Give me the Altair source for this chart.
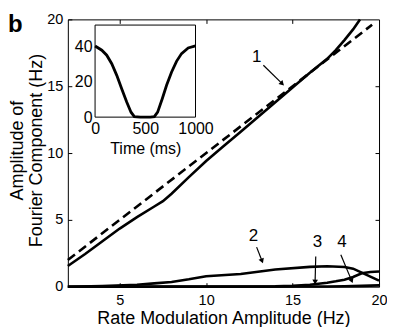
import altair as alt
import pandas as pd
import numpy as np

FONT = "Liberation Sans"

# ---------------- main panel data ----------------
# component 1 (solid)
c1_x = [2, 3, 4, 5, 6, 7, 7.5, 8, 9, 10, 11, 12, 13, 14, 15, 16, 17, 17.5, 18, 18.5, 18.9]
c1_y = [1.55, 2.45, 3.4, 4.35, 5.2, 6.0, 6.4, 6.95, 8.2, 9.4, 10.5, 11.6, 12.7, 13.8, 14.9, 16.0, 17.05, 17.7, 18.45, 19.25, 20]
# component 2
c2_x = [2, 4, 6, 7, 8, 9, 10, 12, 14, 16, 17, 18, 18.5, 19, 19.5, 20]
c2_y = [0, 0.05, 0.15, 0.25, 0.35, 0.55, 0.78, 0.95, 1.28, 1.48, 1.53, 1.47, 1.35, 1.05, 0.75, 0.45]
# component 3
c3_x = [2, 14, 15, 16, 16.5, 17, 17.5, 18, 18.5, 19, 19.5, 20]
c3_y = [0, 0.02, 0.06, 0.15, 0.22, 0.3, 0.4, 0.52, 0.72, 1.0, 1.1, 1.14]
# component 4
c4_x = [2, 17, 18, 19, 20]
c4_y = [0, 0.01, 0.03, 0.06, 0.1]
# dashed reference line
d_x = [2, 19.6]
d_y = [2, 19.6]

# annotations
ann_lab = ["1", "2", "3", "4"]
ann_tx = [12.93, 12.73, 16.44, 17.85]
ann_ty = [17.19, 3.8, 3.34, 3.34]
arr_x0 = [13.31, 12.92, 16.34, 17.79]
arr_y0 = [16.57, 2.96, 2.26, 2.39]
arr_x1 = [14.47, 13.27, 16.30, 18.46]
arr_y1 = [15.1, 1.81, 0.22, 0.32]

# ---------------- inset data ----------------
ins_t = [0, 67, 116, 166, 216, 265, 315, 358, 391, 450, 500, 550, 590, 623, 669, 712, 762, 811, 861, 927, 1000]
ins_r = [40.2, 37.8, 35, 30.2, 23.6, 16, 8.5, 2.8, 0.3, 0, 0, 0, 0.3, 2.8, 10.4, 18, 25.5, 31.5, 35.9, 39.1, 40.2]

# ---------------- geometry ----------------
W, H = 312, 268
X_DOM = [2, 20]
Y_DOM = [0, 20]
PX_X = W / (X_DOM[1] - X_DOM[0])
PX_Y = H / (Y_DOM[1] - Y_DOM[0])

rows = []
for sid, (xx, yy) in enumerate([(c1_x, c1_y), (c2_x, c2_y), (c3_x, c3_y), (c4_x, c4_y)]):
    for i, (a, b) in enumerate(zip(xx, yy)):
        rows.append({"x": a, "y": b, "s": sid + 1, "o": i})
solid_df = pd.DataFrame(rows)
dash_df = pd.DataFrame({"x": d_x, "y": d_y})

ann_df = pd.DataFrame({"lab": ann_lab, "x": ann_tx, "y": ann_ty})
x0 = np.array(arr_x0); y0 = np.array(arr_y0)
x1 = np.array(arr_x1); y1 = np.array(arr_y1)
dxp = (x1 - x0) * PX_X
dyp = (y1 - y0) * PX_Y
L = np.hypot(dxp, dyp)
back = 2.5
hx = x1 - dxp / L * back / PX_X
hy = y1 - dyp / L * back / PX_Y
ang = (np.degrees(np.arctan2(dxp, dyp)) + 360) % 360
arr_df = pd.DataFrame({"x0": x0, "y0": y0, "hx": hx, "hy": hy, "ang": ang})

xs = alt.Scale(domain=X_DOM, nice=False, zero=False)
ys = alt.Scale(domain=Y_DOM, nice=False, zero=False)

common_ax = dict(grid=False, domain=False, labelFont=FONT, labelColor="black",
                 tickColor="black", tickWidth=1, labelFlush=False, labelOverlap=False,
                 titleFont=FONT, titleColor="black", titleFontWeight="normal", format="d")

ax_x = alt.Axis(orient="bottom", values=[5, 10, 15, 20], offset=-4, tickSize=4,
                labelPadding=7, labelFontSize=14.5,
                title="Rate Modulation Amplitude (Hz)", titleFontSize=18,
                titleY=41, titleBaseline="alphabetic", **common_ax)
ax_y = alt.Axis(orient="left", values=[0, 5, 10, 15, 20], offset=-4, tickSize=4,
                labelPadding=5, labelFontSize=14.5,
                title=["Amplitude of", "Fourier Component (Hz)"], titleFontSize=18,
                titleAngle=270, titleX=-49, titleY=131, titleBaseline="alphabetic",
                titleAlign="center", titleLineHeight=18.5, **common_ax)

X = alt.X("x:Q", scale=xs, axis=ax_x)
Y = alt.Y("y:Q", scale=ys, axis=ax_y)

solid = alt.Chart(solid_df).mark_line(color="black", strokeWidth=2.6).encode(
    x=X, y=Y, detail="s:N", order="o:Q")
dashed = alt.Chart(dash_df).mark_line(color="black", strokeWidth=2.6, strokeDash=[9, 5]).encode(
    x=alt.X("x:Q", scale=xs), y=alt.Y("y:Q", scale=ys))
rules = alt.Chart(arr_df).mark_rule(color="black", strokeWidth=1.2).encode(
    x=alt.X("x0:Q", scale=xs), y=alt.Y("y0:Q", scale=ys), x2="hx:Q", y2="hy:Q")
heads = alt.Chart(arr_df).mark_point(shape="triangle", filled=True, color="black",
                                     size=32, opacity=1).encode(
    x=alt.X("hx:Q", scale=xs), y=alt.Y("hy:Q", scale=ys),
    angle=alt.Angle("ang:Q", scale=None))
texts = alt.Chart(ann_df).mark_text(font=FONT, fontSize=17, color="black",
                                     align="center", baseline="middle").encode(
    x=alt.X("x:Q", scale=xs), y=alt.Y("y:Q", scale=ys), text="lab:N")

main = alt.layer(solid, dashed, rules, heads, texts)

# inward ticks on top / right edges
frame_df = pd.DataFrame({"x": [X_DOM[0]], "y": [Y_DOM[0]]})
frame = alt.Chart(frame_df).mark_point(opacity=0).encode(
    x=alt.X("x:Q", scale=alt.Scale(domain=X_DOM, nice=False, zero=False),
            axis=alt.Axis(orient="top", values=[5, 10, 15], offset=-4, tickSize=4,
                          labels=False, title=None, grid=False, domain=False,
                          tickColor="black")),
    y=alt.Y("y:Q", scale=alt.Scale(domain=Y_DOM, nice=False, zero=False),
            axis=alt.Axis(orient="right", values=[5, 10, 15], offset=-4, tickSize=4,
                          labels=False, title=None, grid=False, domain=False,
                          tickColor="black")),
)

# inset
IN_X0, IN_X1 = 27.3, 128.0
IN_Y0, IN_Y1 = 98.0, 5.7
T_DOM = [0, 1000]
R_DOM = [0, 52]
ts = alt.Scale(domain=T_DOM, range=[IN_X0, IN_X1], nice=False, zero=False)
rs = alt.Scale(domain=R_DOM, range=[IN_Y0, IN_Y1], nice=False, zero=False)
in_ax_x = alt.Axis(orient="bottom", values=[0, 500, 1000], offset=IN_Y0 - H,
                   ticks=False, tickSize=0, labelPadding=3, labelFontSize=16,
                   title="Time (ms)", titleFontSize=16, titleY=36,
                   titleBaseline="alphabetic", **common_ax)
in_ax_y = alt.Axis(orient="left", values=[0, 20, 40], offset=-IN_X0,
                   ticks=False, tickSize=0, labelPadding=3, labelFontSize=16,
                   title=None, **common_ax)

box_df = pd.DataFrame({"t0": [T_DOM[0]], "t1": [T_DOM[1]], "r0": [R_DOM[0]], "r1": [R_DOM[1]]})
box = alt.Chart(box_df).mark_rect(fill="white", stroke="black", strokeWidth=1).encode(
    x=alt.X("t0:Q", scale=ts, axis=in_ax_x), x2="t1:Q",
    y=alt.Y("r0:Q", scale=rs, axis=in_ax_y), y2="r1:Q")
ins_df = pd.DataFrame({"t": ins_t, "r": ins_r})
ins_line = alt.Chart(ins_df).mark_line(color="black", strokeWidth=2.8).encode(
    x=alt.X("t:Q", scale=ts), y=alt.Y("r:Q", scale=rs))
inset = alt.layer(box, ins_line)

chart = alt.layer(main, frame, inset).resolve_scale(
    x="independent", y="independent"
).properties(
    width=W, height=H,
    padding={"left": 60, "top": 11, "right": 8, "bottom": 40},
    autosize=alt.AutoSizeParams(type="none"),
    title=alt.Title("b", anchor="start", frame="group", font=FONT, fontSize=24,
                    fontWeight="bold", color="black", dx=-60, dy=45, offset=0,
                    baseline="alphabetic"),
).configure_view(stroke="black", strokeWidth=1)

chart.save("out.html", embed_options={"renderer": "svg", "actions": False})
